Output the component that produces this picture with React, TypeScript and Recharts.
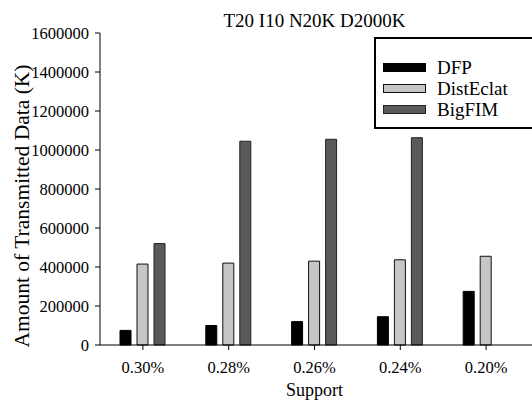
import { Bar, BarChart, XAxis, YAxis } from "recharts";

const supports = ["0.30%", "0.28%", "0.26%", "0.24%", "0.20%"];
const dfp = [75000, 100000, 120000, 145000, 275000];
const distEclat = [415000, 420000, 430000, 437000, 455000];
const bigFim: (number | null)[] = [520000, 1045000, 1055000, 1063000, null];
const yTicks = [0, 200000, 400000, 600000, 800000, 1000000, 1200000, 1400000, 1600000];

const data = supports.map((support, i) => ({
  support,
  DFP: dfp[i],
  DistEclat: distEclat[i],
  BigFIM: bigFim[i],
}));

const series = [
  { key: "DFP", fill: "#000000", stroke: "#000000" },
  { key: "DistEclat", fill: "#c6c6c6", stroke: "#111111" },
  { key: "BigFIM", fill: "#5a5a5a", stroke: "#222222" },
];

const font = "'Liberation Serif', 'Times New Roman', serif";

function LegendBox() {
  return (
    <div
      style={{
        position: "absolute",
        top: 37,
        left: 374,
        border: "2px solid #000",
        background: "#fff",
        width: 180,
        height: 92,
        boxSizing: "border-box",
        paddingTop: 18,
        paddingLeft: 7,
        fontFamily: font,
        fontSize: 19,
        color: "#000",
      }}
    >
      {series.map((s) => (
        <div key={s.key} style={{ display: "flex", alignItems: "center", height: 21, lineHeight: "21px" }}>
          <span
            style={{
              display: "inline-block",
              width: 41,
              height: 7,
              background: s.fill,
              border: `1px solid ${s.stroke}`,
              marginRight: 11,
            }}
          />
          {s.key}
        </div>
      ))}
    </div>
  );
}

function YLabel() {
  return (
    <text
      x={22}
      y={206}
      transform="rotate(-90 22 206)"
      textAnchor="middle"
      dominantBaseline="central"
      fill="#000"
      fontSize={21.5}
      fontFamily={font}
    >
      Amount of Transmitted Data (K)
    </text>
  );
}

export default function App() {
  return (
    <div style={{ position: "absolute", left: 0, top: 0, width: 532, height: 400, background: "#fff", overflow: "hidden" }}>
      <div
        style={{
          position: "absolute",
          top: 10,
          left: 100,
          width: 429,
          textAlign: "center",
          fontFamily: font,
          fontSize: 19,
          lineHeight: 1.107,
          color: "#000",
        }}
      >
        T20 I10 N20K D2000K
      </div>
      <BarChart
        width={560}
        height={400}
        data={data}
        margin={{ top: 33, right: 3, left: 0, bottom: 0 }}
        barSize={11}
        barGap={6}
        style={{ fontFamily: font }}
      >
        <XAxis
          dataKey="support"
          height={55}
          padding={{ left: 0, right: 28 }}
          tickSize={5}
          tickMargin={11}
          tick={{ fill: "#000", fontSize: 16.5 }}
          stroke="#000"
          label={{ value: "Support", position: "insideBottom", offset: 4, fill: "#000", fontSize: 18, dx: -14 }}
        />
        <XAxis
          xAxisId="top"
          dataKey="support"
          orientation="top"
          height={0}
          tick={false}
          tickLine={false}
          stroke="#000"
        />
        <YAxis
          width={100}
          domain={[0, 1600000]}
          ticks={yTicks}
          interval={0}
          tickSize={5}
          tickMargin={6}
          tick={{ fill: "#000", fontSize: 16.5 }}
          stroke="#000"
          label={{ content: () => <YLabel /> }}
        />
        {series.map((s) => (
          <Bar
            key={s.key}
            dataKey={s.key}
            fill={s.fill}
            stroke={s.stroke}
            strokeWidth={1}
            isAnimationActive={false}
          />
        ))}
      </BarChart>
      <LegendBox />
    </div>
  );
}
